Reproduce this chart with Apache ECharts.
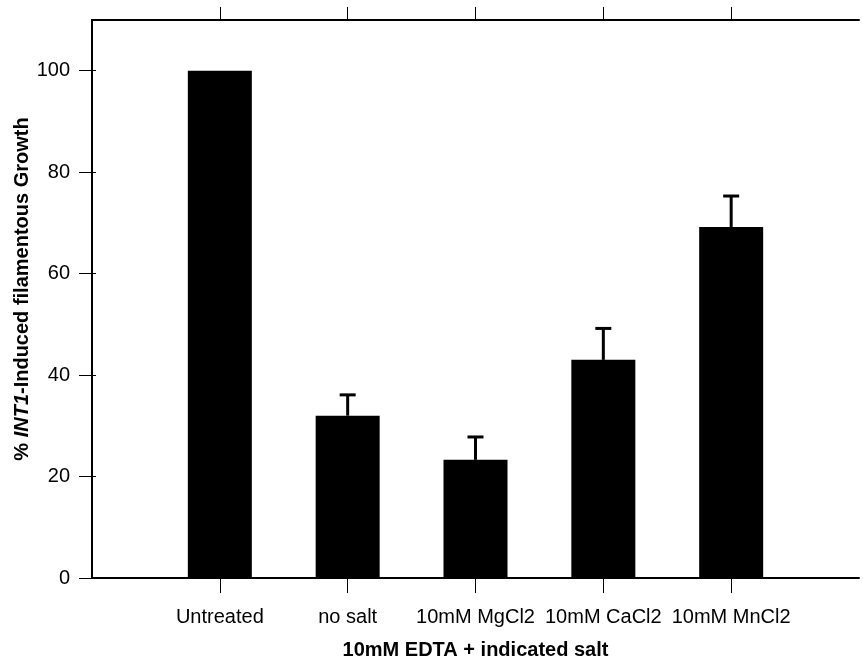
<!DOCTYPE html>
<html>
<head>
<meta charset="utf-8">
<script src="https://cdn.jsdelivr.net/npm/echarts@6/dist/echarts.min.js"></script>
<style>
  html, body { margin: 0; padding: 0; background: #fff; }
  #chart { width: 863px; height: 661px; }
</style>
</head>
<body>
<div id="chart"></div>
<script>
  // categories sit at x = 1..5 on a 0..6 value axis
  var categories = ['Untreated', 'no salt', '10mM MgCl2', '10mM CaCl2', '10mM MnCl2'];
  var catPos = [1, 2, 3, 4, 5];
  var values = [100, 32, 23.3, 43, 69.2];
  var errUp = [0, 4.1, 4.5, 6.2, 6.1];
  var yTicks = [0, 20, 40, 60, 80, 100];

  var barData = [];
  var errData = [];
  for (var i = 0; i < categories.length; i++) {
    barData.push([catPos[i], values[i]]);
    if (errUp[i] > 0) errData.push([catPos[i], values[i], values[i] + errUp[i]]);
  }

  var font = '"Liberation Sans", Arial, sans-serif';
  var myChart = echarts.init(document.getElementById('chart'));
  var option = {
    backgroundColor: '#fff',
    animation: false,
    grid: { left: 92, right: 4, top: 20, bottom: 83, outerBoundsMode: 'none', containLabel: false },
    xAxis: [{
      type: 'value', min: 0, max: 6, position: 'bottom',
      name: '10mM EDTA + indicated salt',
      nameLocation: 'middle', nameGap: 62, nameMoveOverlap: false,
      nameTextStyle: { color: '#000', fontFamily: font, fontSize: 20, fontWeight: 'bold' },
      axisLine: { show: true, onZero: false, lineStyle: { color: '#000', width: 2 } },
      axisTick: { show: true, customValues: catPos, length: 15, lineStyle: { color: '#000', width: 1 } },
      axisLabel: {
        show: true, customValues: catPos, margin: 29, color: '#000', fontFamily: font, fontSize: 20,
        formatter: function (v) { return categories[catPos.indexOf(v)] || ''; }
      },
      splitLine: { show: false }
    }, {
      type: 'value', min: 0, max: 6, position: 'top',
      axisLine: { show: true, onZero: false, lineStyle: { color: '#000', width: 2 } },
      axisTick: { show: true, customValues: catPos, length: 13, lineStyle: { color: '#000', width: 1 } },
      axisLabel: { show: false },
      splitLine: { show: false }
    }],
    yAxis: [{
      type: 'value', min: 0, max: 110, position: 'left',
      name: '{p|% }{i|INT1}{p|-Induced filamentous Growth}',
      nameLocation: 'middle', nameGap: 60, nameRotate: 90, nameMoveOverlap: false,
      nameTextStyle: {
        padding: [0, 0, 0, 20],
        rich: {
          p: { color: '#000', fontFamily: font, fontSize: 20, fontWeight: 'bold' },
          i: { color: '#000', fontFamily: font, fontSize: 20, fontWeight: 'bold', fontStyle: 'italic' }
        }
      },
      axisLine: { show: true, lineStyle: { color: '#000', width: 2 } },
      axisTick: { show: true, customValues: yTicks, length: 13, lineStyle: { color: '#000', width: 1 } },
      axisLabel: { show: true, customValues: yTicks, margin: 22, color: '#000', fontFamily: font, fontSize: 20 },
      splitLine: { show: false }
    }, {
      type: 'value', min: 0, max: 110, position: 'right',
      axisLine: { show: true, lineStyle: { color: '#000', width: 2 } },
      axisTick: { show: true, customValues: yTicks, length: 4, lineStyle: { color: '#000', width: 1 } },
      axisLabel: { show: false },
      splitLine: { show: false }
    }],
    series: [{
      type: 'bar',
      data: barData,
      barWidth: 64,
      itemStyle: { color: '#000' },
      z: 2
    }, {
      type: 'custom',
      data: errData,
      z: 3,
      renderItem: function (params, api) {
        var x = api.value(0);
        var lo = api.coord([x, api.value(1)]);
        var hi = api.coord([x, api.value(2)]);
        return {
          type: 'group',
          children: [{
            type: 'line',
            shape: { x1: lo[0], y1: lo[1], x2: hi[0], y2: hi[1] },
            style: { stroke: '#000', lineWidth: 3 }
          }, {
            type: 'line',
            shape: { x1: hi[0] - 8, y1: hi[1], x2: hi[0] + 8, y2: hi[1] },
            style: { stroke: '#000', lineWidth: 3 }
          }]
        };
      }
    }]
  };
  myChart.setOption(option);
</script>
</body>
</html>
